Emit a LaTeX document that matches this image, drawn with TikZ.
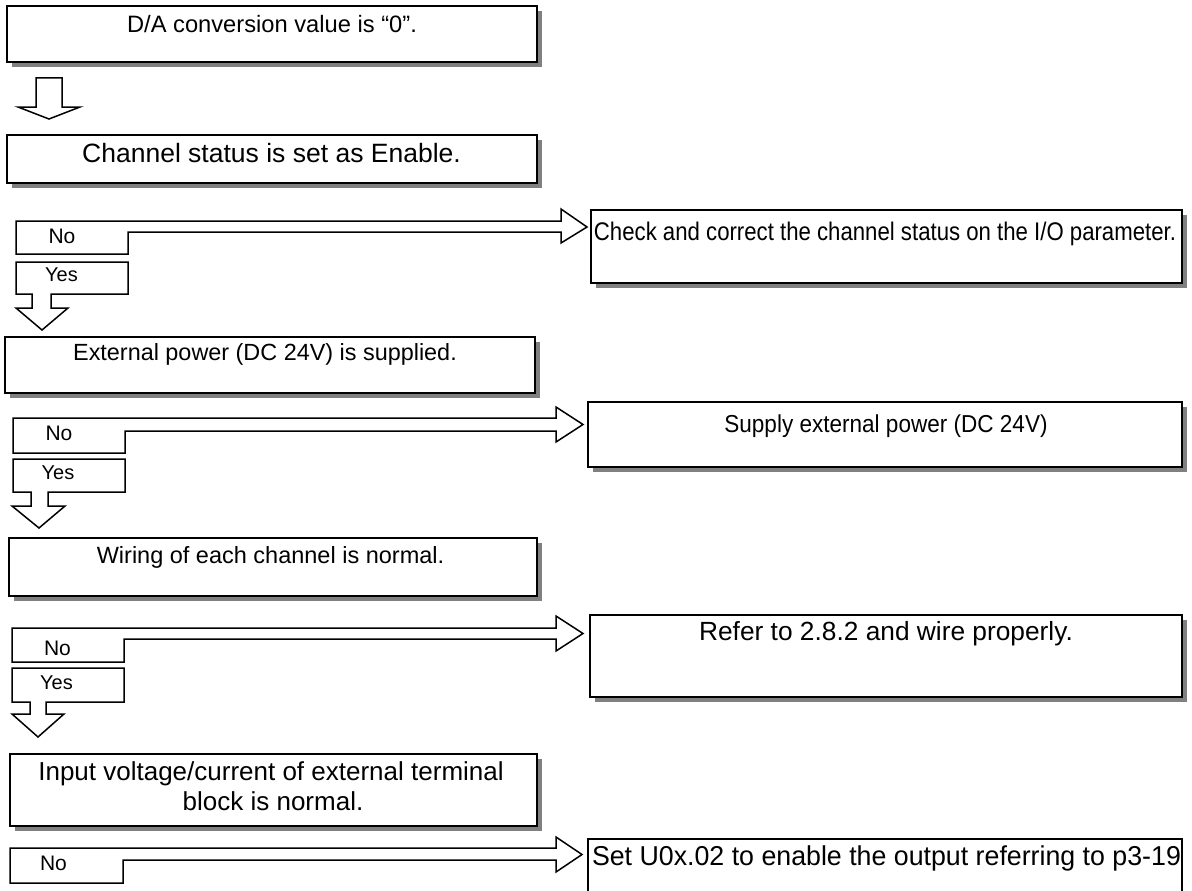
\documentclass[tikz,border=0pt]{standalone}
\usepackage{fontspec}
\setmainfont{Liberation Sans}
\newfontfamily\fnA{Liberation Sans}[FakeStretch=0.87]
\newfontfamily\fnB{Liberation Sans}[FakeStretch=0.92]
\newfontfamily\fnD{Liberation Sans}[FakeStretch=0.98]
\usetikzlibrary{shadows}
\definecolor{shgray}{RGB}{128,128,128}
\newcommand{\tsz}[1]{\fontsize{#1}{#1}\selectfont}
\tikzset{
  box/.style={draw=black, line width=1.5pt, fill=white, inner sep=0pt, outer sep=0pt,
    general shadow={fill=shgray, shadow xshift=5pt, shadow yshift=-5pt}},
  plainbox/.style={draw=black, line width=1.5pt, fill=white, inner sep=0pt, outer sep=0pt},
  barrow/.style={draw=black, line width=1.5pt, fill=white, line join=miter},
  txt/.style={anchor=base, inner sep=0pt},
}
\begin{document}
\begin{tikzpicture}[x=1pt,y=-1pt]
\useasboundingbox (0,0) rectangle (1192,891);
\fill[white] (0,0) rectangle (1192,891);

% left column boxes
\node[box, minimum width=530pt, minimum height=56pt] (b1) at (272,34) {};
\node[txt, font=\tsz{23.7}] (t1) at (272,33) {D/A conversion value is “0”.};

\draw[barrow] (36,78) -- (62,78) -- (62,107) -- (80,107) -- (49,119) -- (18,107) -- (36,107) -- cycle;

\node[box, minimum width=530pt, minimum height=48pt] (b2) at (272,159) {};
\node[txt, font=\tsz{26.5}] (t2) at (271.5,162) {Channel status is set as Enable.};

% block 1
\draw[barrow] (16,221) -- (561,221) -- (561,209) -- (587,227) -- (561,243) -- (561,232) -- (128,232) -- (128,254) -- (16,254) -- cycle;
\node[txt, font=\tsz{21}] (n1) at (62,243) {No};
\draw[barrow] (16,262) -- (128,262) -- (128,294) -- (51,294) -- (51,308) -- (68,308) -- (42,330) -- (16,308) -- (32,308) -- (32,294) -- (16,294) -- cycle;
\node[txt, font=\tsz{20}] (y1) at (61.5,281) {Yes};
\node[box, minimum width=591pt, minimum height=73pt] (r1) at (886.5,246.5) {};
\node[txt, font=\fnA\tsz{25.5}] (rt1) at (885,240) {Check and correct the channel status on the I/O parameter.};

\node[box, minimum width=530pt, minimum height=56pt] (b3) at (270,365) {};
\node[txt, font=\tsz{23.4}] (t3) at (265,360) {External power (DC 24V) is supplied.};

% block 2
\draw[barrow] (13,418) -- (556,418) -- (556,407) -- (583,424.5) -- (556,442) -- (556,431) -- (125,431) -- (125,453) -- (13,453) -- cycle;
\node[txt, font=\tsz{21}] (n2) at (59,440) {No};
\draw[barrow] (13,459) -- (125,459) -- (125,492) -- (48,492) -- (48,506) -- (65,506) -- (39,528) -- (12,506) -- (31,506) -- (31,492) -- (13,492) -- cycle;
\node[txt, font=\tsz{20}] (y2) at (58,479) {Yes};
\node[box, minimum width=594pt, minimum height=65pt] (r2) at (885,434.5) {};
\node[txt, font=\fnB\tsz{24.5}] (rt2) at (886,432) {Supply external power (DC 24V)};

\node[box, minimum width=528pt, minimum height=58pt] (b4) at (273,567) {};
\node[txt, font=\tsz{23.5}] (t4) at (270.5,563) {Wiring of each channel is normal.};

% block 3
\draw[barrow] (12,628) -- (556,628) -- (556,616) -- (583,633.5) -- (556,651) -- (556,639) -- (124,639) -- (124,662) -- (12,662) -- cycle;
\node[txt, font=\tsz{21}] (n3) at (57.5,655) {No};
\draw[barrow] (12,668) -- (124,668) -- (124,702) -- (46,702) -- (46,714) -- (64,714) -- (38,737) -- (12,714) -- (30,714) -- (30,702) -- (12,702) -- cycle;
\node[txt, font=\tsz{20}] (y3) at (56.5,689) {Yes};
\node[box, minimum width=592pt, minimum height=82pt] (r3) at (886,656) {};
\node[txt, font=\tsz{26.3}] (rt3) at (886,640) {Refer to 2.8.2 and wire properly.};

\node[box, minimum width=527pt, minimum height=72pt] (b5) at (273.5,790) {};
\node[txt, font=\tsz{26}] (t5a) at (271,780) {Input voltage/current of external terminal};
\node[txt, font=\tsz{26}] (t5b) at (273,810) {block is normal.};

% block 4
\draw[barrow] (10,848) -- (556,848) -- (556,837) -- (582,854.5) -- (556,872) -- (556,860) -- (123,860) -- (123,883) -- (10,883) -- cycle;
\node[txt, font=\tsz{21}] (n4) at (53.5,870) {No};
\node[plainbox, minimum width=594pt, minimum height=70pt] (r4) at (885,874) {};
\node[txt, font=\fnD\tsz{27.3}] (rt4) at (886.5,865) {Set U0x.02 to enable the output referring to p3-19};
\end{tikzpicture}
\end{document}
